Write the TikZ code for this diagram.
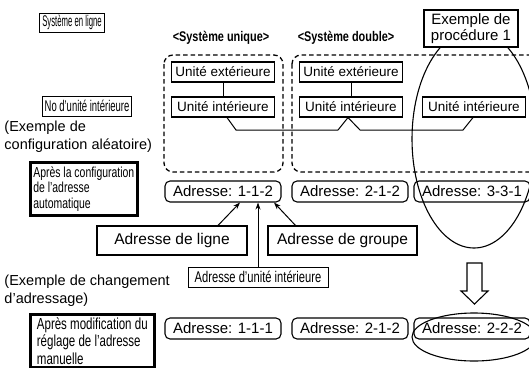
\documentclass[tikz,border=0pt]{standalone}
\usepackage{fontspec}
\usepackage{graphicx}
\setmainfont{Liberation Sans}
\newfontfamily\narrowfont[FakeStretch=0.72]{Liberation Sans}
\newfontfamily\narrowerfont[FakeStretch=0.61]{Liberation Sans}
\newfontfamily\narrowb[FakeStretch=0.78]{Liberation Sans}
\usetikzlibrary{arrows.meta,calc}
\begin{document}
\begin{tikzpicture}[x=1pt,y=-1pt,line width=1pt,
  narrowlbl/.style={draw,line width=0.9pt,inner xsep=2.5pt,inner ysep=1.5pt,font=\narrowerfont\fontsize{15.5}{16}\selectfont},
  unitbox/.style={draw,line width=1.1pt,minimum width=103pt,minimum height=20pt,inner sep=1pt,font=\fontsize{13.5}{15}\selectfont},
  addrbox/.style={draw,line width=1.1pt,rounded corners=5pt,minimum width=116pt,minimum height=21pt,inner sep=1pt,font=\fontsize{15}{17}\selectfont},
  labbox/.style={draw,line width=1.1pt,minimum width=150pt,minimum height=29pt,inner sep=1pt,font=\fontsize{15.5}{17}\selectfont},
  thickbox/.style={draw,line width=2.6pt,align=left,inner sep=3pt,anchor=north west},
  dashbox/.style={draw,dash pattern=on 4.5pt off 3pt,line width=1.3pt,rounded corners=9pt},
  hdr/.style={font=\narrowb\bfseries\fontsize{14}{15}\selectfont,inner sep=0pt},
  note/.style={align=left,anchor=north west,inner sep=0pt,font=\fontsize{14.5}{18}\selectfont},
  ptr/.style={-{Stealth[length=7pt,width=5pt]},line width=1pt}]
\useasboundingbox (0,0) rectangle (529,367);
\fill[white] (0,0) rectangle (529,367);

% left labels
\node[narrowlbl,minimum height=19pt,inner ysep=0pt] (sel) at (72,22.5) {\scalebox{0.82}[1]{Système en ligne}};
\node[narrowlbl,minimum height=20pt,inner ysep=0pt] (nui) at (87,106) {No d’unité intérieure};
\node[note] (n1) at (4,120) {(Exemple de\\configuration aléatoire)};
\node[thickbox,minimum width=106pt,minimum height=53pt,font=\narrowfont\fontsize{14.5}{15.5}\selectfont] (t1) at (29,161) {Après la configuration\\de l’adresse\\automatique};
\node[note] (n2) at (4,274) {(Exemple de changement\\d’adressage)};
\node[thickbox,minimum width=124pt,font=\narrowfont\fontsize{16}{17.5}\selectfont] (t2) at (29,313) {Après modification du\\réglage de l’adresse\\manuelle};

% headers
\node[hdr] (su) at (221,38) {<Système unique>};
\node[hdr] (sd) at (346,38) {<Système double>};

% dashed system frames
\draw[dashbox] (164,55) rectangle (283,172);
\draw[dashbox] (292,55) rectangle (560,172);

% big ellipse
\draw[line width=1.1pt] (474,139) ellipse [x radius=62pt,y radius=109pt];
\node[draw,line width=1.1pt,fill=white,align=center,minimum width=94pt,minimum height=37pt,inner sep=1pt,font=\fontsize{15}{16}\selectfont] (ex) at (471,28.5) {Exemple de\\procédure 1};

% units
\node[unitbox] (ue1) at (223,72) {Unité extérieure};
\node[unitbox] (ui1) at (223,107) {Unité intérieure};
\node[unitbox] (ue2) at (351,72) {Unité extérieure};
\node[unitbox] (ui2) at (351,107) {Unité intérieure};
\node[unitbox] (ui3) at (474,107) {Unité intérieure};
\draw (ue1) -- (ui1);
\draw (ue2) -- (ui2);
\coordinate (w1) at (236,130);
\coordinate (w2) at (338,130);
\coordinate (w3) at (360,130);
\coordinate (w4) at (463,130);
\draw ([xshift=4pt]ui1.south) -- (w1) -- (w2) -- ([xshift=-3pt]ui2.south) -- (w3) -- (w4) -- ([xshift=-1pt]ui3.south);

% address row 1
\node[addrbox] (a1) at (223,191.5) {Adresse: 1-1-2};
\node[addrbox] (a2) at (350,191.5) {Adresse: 2-1-2};
\node[addrbox] (a3) at (472,191.5) {Adresse: 3-3-1};

% address parts
\node[labbox] (al) at (172,240.5) {Adresse de ligne};
\node[labbox,minimum width=149pt] (ag) at (342.5,240.5) {Adresse de groupe};
\node[draw,line width=0.9pt,font=\narrowfont\fontsize{15.5}{16}\selectfont,minimum width=140pt,minimum height=20pt,inner sep=0pt] (au) at (258,277) {Adresse d’unité intérieure};
\draw[ptr] ([xshift=46pt]al.north) -- ([xshift=17pt]a1.south);
\draw[ptr] (au.north) -- (au.north |- a1.south);
\draw[ptr] ([xshift=-47pt]ag.north) -- ([xshift=51pt]a1.south);

% hollow arrow
\draw[line width=1.1pt,fill=white] (467,263) -- (482,263) -- (482,291) -- (488,291) -- (474.5,304) -- (461,291) -- (467,291) -- cycle;

% address row 2
\node[addrbox] (b1) at (223,328.5) {Adresse: 1-1-1};
\node[addrbox] (b2) at (350,328.5) {Adresse: 2-1-2};
\node[addrbox] (b3) at (472,328.5) {Adresse: 2-2-2};
\draw[line width=1.1pt] (474,337) ellipse [x radius=62pt,y radius=24pt];
\end{tikzpicture}
\end{document}
